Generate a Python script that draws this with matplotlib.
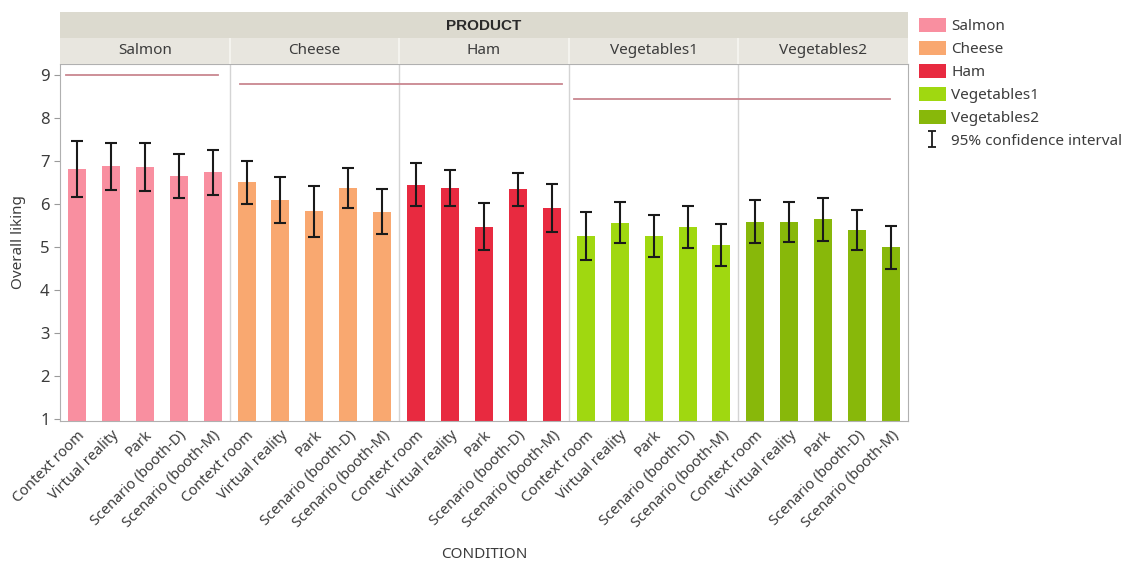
import matplotlib
matplotlib.use("Agg")
import matplotlib.pyplot as plt
import numpy as np
from matplotlib.patches import Patch
from matplotlib.lines import Line2D
from matplotlib.path import Path

plt.rcParams['font.family'] = ['Noto Sans', 'DejaVu Sans']

products = ["Salmon", "Cheese", "Ham", "Vegetables1", "Vegetables2"]
conditions = ["Context room", "Virtual reality", "Park", "Scenario (booth-D)", "Scenario (booth-M)"]
colors = ["#f98fa0", "#f9a870", "#e82a40", "#a0d810", "#88b80a"]

# mean liking per product x condition
means = [
    [6.82, 6.88, 6.87, 6.65, 6.74],
    [6.51, 6.09, 5.84, 6.38, 5.82],
    [6.44, 6.37, 5.47, 6.35, 5.91],
    [5.26, 5.55, 5.26, 5.47, 5.04],
    [5.58, 5.58, 5.65, 5.39, 4.99],
]
ci_low = [
    [6.16, 6.32, 6.30, 6.13, 6.22],
    [6.00, 5.56, 5.23, 5.91, 5.31],
    [5.95, 5.95, 4.93, 5.95, 5.35],
    [4.70, 5.09, 4.77, 4.98, 4.56],
    [5.09, 5.12, 5.14, 4.93, 4.49],
]
ci_high = [
    [7.47, 7.42, 7.42, 7.16, 7.26],
    [7.00, 6.63, 6.42, 6.84, 6.35],
    [6.95, 6.79, 6.02, 6.72, 6.47],
    [5.81, 6.05, 5.74, 5.95, 5.53],
    [6.09, 6.05, 6.14, 5.86, 5.49],
]
# horizontal reference lines: (from category, to category, level)
ref_lines = [(-0.32, 4.15, 9.0), (4.8, 14.3, 8.79), (14.65, 23.97, 8.44)]

W, H = 1143, 563
fig = plt.figure(figsize=(W / 100, H / 100), dpi=100)
left, right = 60 / W, 908 / W
ax = fig.add_axes([left, 1 - 421 / H, right - left, (421 - 64) / H])

txt = "#3c3c3c"
grid_c = "#d4d4d4"
n_cond = len(conditions)
x_all, labels = [], []
for p, prod in enumerate(products):
    x = np.arange(n_cond) + p * n_cond
    m = np.array(means[p])
    lo = m - np.array(ci_low[p])
    hi = np.array(ci_high[p]) - m
    ax.bar(x, m, width=0.53, color=colors[p], bottom=0, zorder=2)
    ax.errorbar(x, m, yerr=[lo, hi], fmt="none", ecolor="#1a1a1a",
                elinewidth=1.5, capsize=4, capthick=1.5, zorder=3)
    x_all.extend(x)
    labels.extend(conditions)

for p in range(1, len(products)):
    ax.axvline(p * n_cond - 0.5, color=grid_c, lw=1, zorder=1)

for x0, x1, lvl in ref_lines:
    ax.plot([x0, x1], [lvl, lvl], color="#c98790", lw=1.3, zorder=2)

ax.set_xlim(-0.5, len(products) * n_cond - 0.5)
ax.set_ylim(0.95, 9.26)
ax.set_yticks(range(1, 10))
ax.set_xticks(x_all)
ax.set_xticklabels(labels, rotation=45, ha="right", rotation_mode="anchor",
                   fontsize=10.5, color=txt)
ax.tick_params(axis="x", length=0, pad=5)
ax.tick_params(axis="y", length=4, color="#9a9a9a", labelsize=12, labelcolor=txt)
for s in ax.spines.values():
    s.set_color("#b0b0b0")
ax.set_ylabel("Overall liking", fontsize=11, color=txt, labelpad=10)
ax.set_xlabel("CONDITION", fontsize=11, color=txt, labelpad=12)

# facet strips
strip = fig.add_axes([left, 1 - 64 / H, right - left, 26 / H])
strip.set_xlim(ax.get_xlim())
strip.set_ylim(0, 1)
for p, prod in enumerate(products):
    strip.axvspan(p * n_cond - 0.5, (p + 1) * n_cond - 0.5, color="#e8e6df", lw=0)
    strip.text(p * n_cond + 2, 0.5, prod, ha="center", va="center", fontsize=11, color=txt)
    if p > 0:
        strip.axvline(p * n_cond - 0.5, color="#f7f6f2", lw=1.2)
strip.axis("off")

header = fig.add_axes([left, 1 - 38 / H, right - left, 26 / H])
header.set_xlim(0, 1)
header.set_ylim(0, 1)
header.axvspan(0, 1, color="#dcdacf", lw=0)
header.text(0.5, 0.45, "PRODUCT", ha="center", va="center", fontsize=11,
            fontweight="bold", family=["Liberation Sans", "DejaVu Sans"], color="#2a2a2a")
header.axis("off")

# legend
ibeam = Path([(-0.5, 1), (0.5, 1), (0, 1), (0, -1), (-0.5, -1), (0.5, -1)],
             [Path.MOVETO, Path.LINETO, Path.MOVETO, Path.LINETO, Path.MOVETO, Path.LINETO])
handles = [Patch(facecolor=c, edgecolor="none") for c in colors]
handles.append(Line2D([], [], linestyle="none", marker=ibeam, markersize=12,
                      markeredgecolor="#1a1a1a", markerfacecolor="none", markeredgewidth=1.3))
fig.legend(handles, products + ["95% confidence interval"], loc="upper left",
           bbox_to_anchor=(913 / W, 1 - 12 / H), frameon=False, fontsize=11,
           handlelength=1.75, handleheight=1.05, handletextpad=0.35,
           labelspacing=0.43, borderaxespad=0, labelcolor=txt)

fig.savefig("out.png", dpi=100)
